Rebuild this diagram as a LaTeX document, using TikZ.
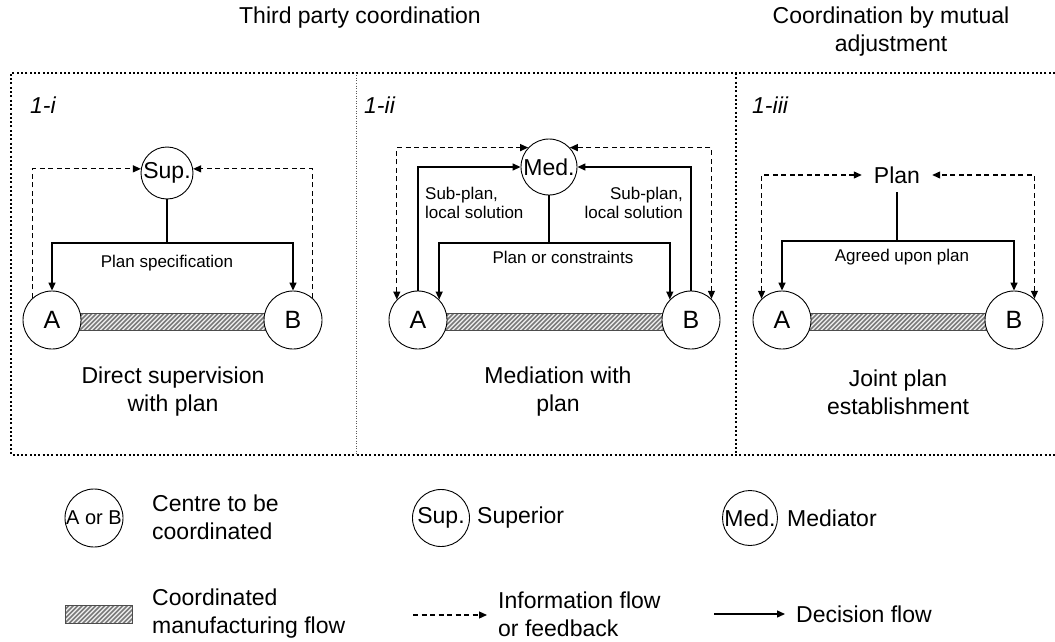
\documentclass[tikz,border=0pt]{standalone}
\usepackage{fontspec}
\setmainfont{Liberation Sans}
\usetikzlibrary{arrows.meta,calc,backgrounds}

\newcommand\bigtxt{\fontsize{23}{28}\selectfont}
\newcommand\lettertxt{\fontsize{25}{28}\selectfont}
\newcommand\smalltxt{\fontsize{17}{19}\selectfont}

% hatched strip between two corner coordinates (top-left, bottom-right)
\newcommand\hatchbox[2]{%
  \begin{scope}
    \clip (#1) rectangle (#2);
    \fill[gray!12] (#1) rectangle (#2);
    \foreach \k in {0,4.5,...,320}
      \draw[stripe] ($(#1)+(\k-25,25)$) -- ++(30,-30);
  \end{scope}
  \draw[baredge] (#1) rectangle (#2);
}

\tikzset{
  tip/.tip={Triangle[length=8pt,width=7pt]},
  centre/.style={circle, draw, line width=0.9pt, fill=white,
    minimum size=58pt, inner sep=0pt, font=\lettertxt},
  coord/.style={circle, draw, line width=0.9pt, fill=white,
    minimum size=54pt, inner sep=0pt, font=\bigtxt},
  dec/.style={line width=1.4pt, -tip},
  decline/.style={line width=1.4pt},
  info/.style={line width=1.2pt, dash pattern=on 5pt off 3.5pt, -tip},
  infoboth/.style={info, tip-tip},
  frame/.style={line width=2.2pt, dash pattern=on 2pt off 2.3pt},
  thinframe/.style={line width=0.8pt, gray!70!black, dash pattern=on 1pt off 1.5pt},
  stripe/.style={line width=1.5pt, gray!70!black!80},
  baredge/.style={line width=0.8pt, gray!60!black},
  lbl/.style={font=\bigtxt, align=center, inner sep=0pt},
  small/.style={font=\smalltxt, inner sep=0pt},
  panel/.style={font=\bigtxt\itshape, anchor=west, inner sep=0pt},
}

\begin{document}
\begin{tikzpicture}[x=1pt,y=-1pt]
\useasboundingbox (0,0) rectangle (1055,642);

% headings
\node[lbl] (h1) at (360,18) {Third party coordination};
\node[lbl] (h2) at (891,32) {Coordination by mutual\\adjustment};

% frame and panel dividers
\draw[frame] (1055,73) -- (11,73) -- (11,455) -- (1055,455);
\draw[frame] (736,73) -- (736,455);
\draw[thinframe] (356,73) -- (356,455);

\node[panel] (p1) at (30,105) {1-i};
\node[panel] (p2) at (364,105) {1-ii};
\node[panel] (p3) at (752,105) {1-iii};

% ---------- 1-i : direct supervision ----------
\node[coord, minimum size=52pt] (Sup) at (167,173) {Sup.};
\node[centre] (A1) at (52,320) {A};
\node[centre] (B1) at (293,320) {B};
\coordinate (j1) at (167,243);
\draw[decline] (Sup) -- (j1);
\draw[dec] (j1) -| (A1);
\draw[dec] (j1) -| (B1);
\draw[info] (A1.131) |- (Sup.171);
\draw[info] (B1.49) |- (Sup.9);
\node[small] (l1) at (167,263) {Plan specification};
\node[lbl] (c1) at (173,392) {Direct supervision\\with plan};

% ---------- 1-ii : mediation ----------
\node[coord, minimum size=56pt] (Med) at (549,167) {Med.};
\node[centre] (A2) at (418,320) {A};
\node[centre] (B2) at (691,320) {B};
\draw[dec] (A2.north) |- (Med);
\draw[dec] (B2.north) |- (Med);
\coordinate (j2) at (549,243);
\draw[decline] (Med) -- (j2);
\draw[dec] (j2) -| (A2.44);
\draw[dec] (j2) -| (B2.136);
\draw[infoboth] (A2.136) |- (Med.137);
\draw[infoboth] (B2.46) |- (Med.43);
\node[small, align=left, anchor=west] (l2a) at (425,203) {Sub-plan,\\local solution};
\node[small, align=right, anchor=east] (l2b) at (683,203) {Sub-plan,\\local solution};
\node[small] (l2) at (563,257) {Plan or constraints};
\node[lbl] (c2) at (558,392) {Mediation with\\plan};

% ---------- 1-iii : joint plan ----------
\node[font=\bigtxt, inner xsep=12pt, inner ysep=0pt, minimum height=34pt] (Plan) at (897,175) {Plan};
\node[centre] (A3) at (782,320) {A};
\node[centre] (B3) at (1014,320) {B};
\coordinate (j3) at (897,241);
\draw[decline] (Plan.south) -- (j3);
\draw[dec] (j3) -| (A3);
\draw[dec] (j3) -| (B3);
\draw[infoboth] (A3.134) |- (Plan.west);
\draw[infoboth] (B3.46) |- (Plan.east);
\node[small] (l3) at (902,257) {Agreed upon plan};
\node[lbl] (c3) at (898,392) {Joint plan\\establishment};

% manufacturing flow strips behind the centres
\begin{scope}[on background layer]
  \foreach \a/\b/\n in {A1/B1/1, A2/B2/2, A3/B3/3}{
    \coordinate (s\n a) at ($(\a.center)+(0,-7)$);
    \coordinate (s\n b) at ($(\b.center)+(0,10)$);
    \hatchbox{s\n a}{s\n b}
  }
\end{scope}

% ---------- legend ----------
\node[centre, font=\fontsize{20}{24}\selectfont] (kA) at (94,518) {A or B};
\node[lbl, align=left, anchor=west] (kAt) at (152,517) {Centre to be\\coordinated};
\node[coord, minimum size=57pt] (kS) at (441,518) {Sup.};
\node[lbl, anchor=west] (kSt) at (477,518) {Superior};
\node[coord, minimum size=55pt] (kM) at (750,518) {Med.};
\node[lbl, anchor=west] (kMt) at (787,518) {Mediator};

\coordinate (kh1) at (65,605);
\coordinate (kh2) at (132,623);
\hatchbox{kh1}{kh2}
\node[lbl, align=left, anchor=west] (kHt) at (152,614) {Coordinated\\manufacturing flow};

\coordinate (ki1) at (413,615);
\coordinate (ki2) at (487,615);
\draw[info] (ki1) -- (ki2);
\node[lbl, align=left, anchor=west] (kIt) at (498,614) {Information flow\\or feedback};

\coordinate (kd1) at (714,614);
\coordinate (kd2) at (785,614);
\draw[dec] (kd1) -- (kd2);
\node[lbl, anchor=west] (kDt) at (796,614) {Decision flow};
\end{tikzpicture}
\end{document}
